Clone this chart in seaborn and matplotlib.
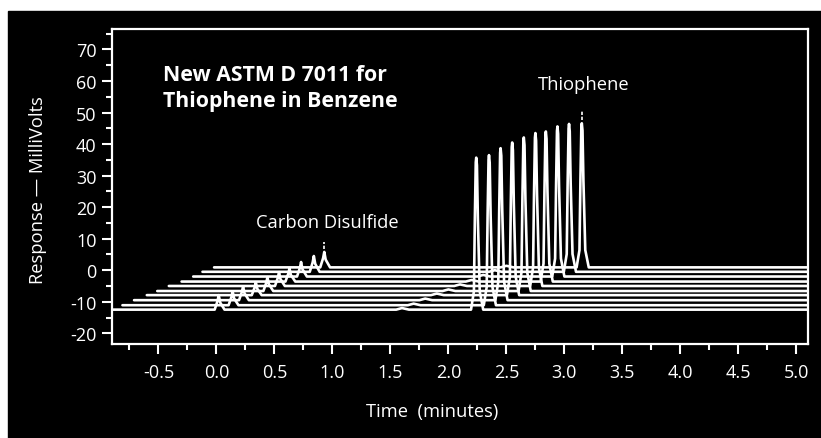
import numpy as np
import pandas as pd
import matplotlib
matplotlib.use("Agg")
import matplotlib.pyplot as plt
from matplotlib.patches import Rectangle
import seaborn as sns

trace_start = [-0.95, -0.81, -0.71, -0.60, -0.51, -0.41, -0.30, -0.20, -0.12, -0.02]
trace_base = [-12.5, -11.1, -9.5, -7.9, -6.6, -5.0, -3.6, -2.0, -0.5, 0.9]
cs2_time = [0.02, 0.14, 0.23, 0.34, 0.44, 0.54, 0.63, 0.73, 0.84, 0.93]
cs2_top = [-7.9, -6.7, -5.1, -3.8, -2.2, -0.6, 0.6, 2.6, 4.5, 5.8]
bump_time = [1.60, 1.70, 1.80, 1.90, 2.00, 2.10, 2.20, 2.30, 2.40, 2.50]
bump_top = [-12.0, -10.6, -9.0, -7.4, -6.1, -4.5, -3.1, -1.5, 0.0, 1.4]
thio_time = [2.24, 2.35, 2.45, 2.55, 2.65, 2.75, 2.84, 2.94, 3.04, 3.15]
thio_top = [35.7, 36.5, 38.7, 40.5, 42.1, 43.5, 44.0, 45.6, 46.4, 46.6]
trace_end = 5.2

# marcas acima dos picos identificados
marker_time = [0.93, 3.15]
marker_low = [6.7, 47.6]
marker_high = [8.9, 50.5]

x_major = [-0.5, 0.0, 0.5, 1.0, 1.5, 2.0, 2.5, 3.0, 3.5, 4.0, 4.5, 5.0]
x_labels = ["-0.5", "0.0", "0.5", "1.0", "1.5", "2.0", "2.5", "3.0", "3.5", "4.0", "4.5", "5.0"]
x_minor = [-0.75, -0.25, 0.25, 0.75, 1.25, 1.75, 2.25, 2.75, 3.25, 3.75, 4.25, 4.75]
y_major = [-20, -10, 0, 10, 20, 30, 40, 50, 60, 70]
y_labels = ["-20", "-10", "0", "10", "20", "30", "40", "50", "60", "70"]
y_minor = [-15, -5, 5, 15, 25, 35, 45, 55, 65, 75]

# formato dos picos (deslocamento em minutos e fração da altura)
THIO_DT = [-0.045, -0.02, -0.012, -0.004, 0.0, 0.006, 0.014, 0.03, 0.06]
THIO_FR = [0.0, 0.12, 0.6, 0.97, 1.0, 0.95, 0.6, 0.12, 0.0]
CS2_DT = [-0.035, -0.01, 0.0, 0.012, 0.05]
CS2_FR = [0.0, 0.6, 1.0, 0.5, 0.0]
BUMP_DT = [-0.05, 0.0, 0.06]
BUMP_FR = [0.0, 1.0, 0.0]

rows = []
for i in range(len(trace_base)):
    base = trace_base[i]
    pts = [(trace_start[i], base)]
    for t0, top, dts, frs in [(cs2_time[i], cs2_top[i], CS2_DT, CS2_FR),
                              (bump_time[i], bump_top[i], BUMP_DT, BUMP_FR),
                              (thio_time[i], thio_top[i], THIO_DT, THIO_FR)]:
        for dt, fr in zip(dts, frs):
            pts.append((t0 + dt, base + fr * (top - base)))
    pts.append((trace_end, base))
    pts.sort(key=lambda p: p[0])
    for t, v in pts:
        rows.append({"trace": i, "time": t, "mv": v})
df = pd.DataFrame(rows)

sns.set_style("ticks")
plt.rcParams["font.family"] = ["Open Sans", "DejaVu Sans"]
plt.rcParams["axes.unicode_minus"] = False

fig = plt.figure(figsize=(8.21, 4.39), dpi=100, facecolor="white")
fig.patches.append(Rectangle((8 / 821, 0), 1 - 8 / 821, 1 - 12 / 439,
                             transform=fig.transFigure, color="black", zorder=-1))
ax = fig.add_axes([112 / 821, 1 - 345 / 439, 696 / 821, 315 / 439])
ax.set_facecolor("black")

sns.lineplot(data=df, x="time", y="mv", units="trace", estimator=None, sort=False,
             color="white", linewidth=1.9, ax=ax)
for t, lo, hi in zip(marker_time, marker_low, marker_high):
    ax.plot([t, t], [lo, hi], color="white", lw=1.2, ls=(0, (2, 1)))

ax.set_xlim(-0.9, 5.1)
ax.set_ylim(-23.4, 76.5)
ax.set_xticks(x_major)
ax.set_xticklabels(x_labels)
ax.set_xticks(x_minor, minor=True)
ax.set_yticks(y_major)
ax.set_yticklabels(y_labels)
ax.set_yticks(y_minor, minor=True)
ax.set_xlabel("")
ax.set_ylabel("")
ax.tick_params(which="both", colors="white", width=1.5, direction="out", labelsize=13)
ax.tick_params(which="major", length=7)
ax.tick_params(which="minor", length=4)
ax.tick_params(axis="x", pad=7)
ax.tick_params(axis="y", pad=4)
for s in ax.spines.values():
    s.set_color("white")
    s.set_linewidth(1.6)

ax.text(-0.46, 58, "New ASTM D 7011 for\nThiophene in Benzene", color="white",
        fontsize=15.3, fontweight="bold", ha="left", va="center", linespacing=1.3)
ax.text(3.17, 59.1, "Thiophene", color="white", fontsize=13.2, ha="center", va="center")
ax.text(0.96, 15.3, "Carbon Disulfide", color="white", fontsize=13.2, ha="center", va="center")

fig.text(432 / 821, 1 - 412 / 439, "Time  (minutes)", color="white", fontsize=13.2,
         ha="center", va="center")
fig.text(38 / 821, 1 - 190 / 439, "Response \u2014 MilliVolts", color="white", fontsize=13.2,
         ha="center", va="center", rotation=90)

fig.savefig("out.png", dpi=100, facecolor=fig.get_facecolor())
